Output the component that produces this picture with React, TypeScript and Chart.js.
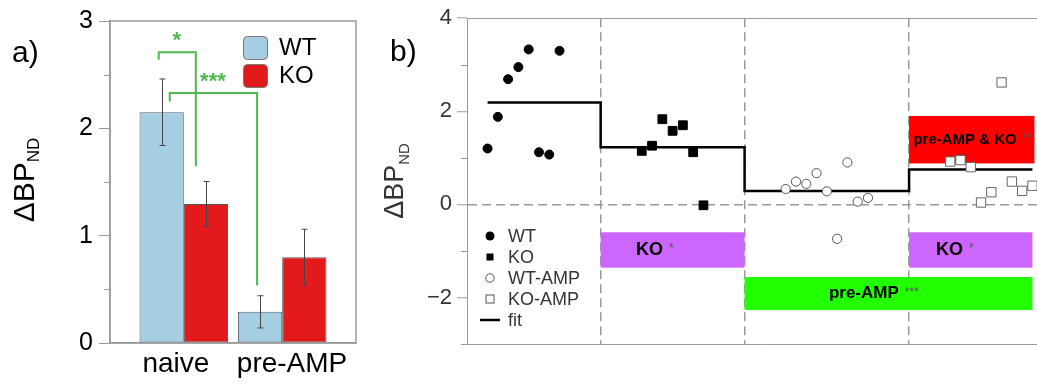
import React, { useEffect, useRef } from 'react';
import { Chart, registerables } from 'chart.js';

Chart.register(...registerables);

const FONT = '"Liberation Sans", Arial, Helvetica, sans-serif';

// ---------------- Panel a: bar chart ----------------
const barCategories = ['naive', 'pre-AMP'];
const barSeries = ['WT', 'KO'];
const wtMeans = [2.15, 0.29];
const koMeans = [1.295, 0.8];
const wtErrors = [0.31, 0.15];
const koErrors = [0.21, 0.26];
const barYTicksMax = 3;
// horizontal nudges of the category labels (style, in axis units)
const categoryLabelShift = [-0.08, 0.1];

// significance brackets (data coordinates)
const bracketLines = [
  { xl: 0.745, xr: 1.122, yTop: 2.71, yl: 2.64, yr: 1.65, text: '*', tx: 0.929, ty: 2.87 },
  { xl: 0.857, xr: 1.745, yTop: 2.33, yl: 2.25, yr: 0.535, text: '***', tx: 1.296, ty: 2.49 },
];

// ---------------- Panel b: scatter ----------------
const groupNames = ['WT', 'KO', 'WT-AMP', 'KO-AMP'];
const wtPoints = [1.2, 1.88, 2.69, 2.95, 3.33, 1.12, 1.07, 3.3];
const koPoints = [1.15, 1.26, 1.83, 1.58, 1.7, 1.12, -0.02];
const wtAmpPoints = [0.33, 0.49, 0.44, 0.67, 0.28, -0.74, 0.9, 0.06, 0.14];
const koAmpPoints = [0.92, 0.95, 0.8, 0.04, 0.26, 2.62, 0.49, 0.29, 0.4];
const fitLevels = [2.19, 1.225, 0.286, 0.75];
const scatterYMin = -3;
const scatterYMax = 4;
const groupGap = 8;

const groups = [wtPoints, koPoints, wtAmpPoints, koAmpPoints];
const groupStarts: number[] = [];
const groupEnds: number[] = [];
{
  let cur = 0;
  groups.forEach((g) => {
    groupStarts.push(cur);
    groupEnds.push(cur + g.length - 1);
    cur += g.length - 1 + groupGap;
  });
}
const separators = [0, 1, 2].map((i) => (groupEnds[i] + groupStarts[i + 1]) / 2);
const lastIndex = groupEnds[3];

const fitData: { x: number; y: number }[] = [];
fitLevels.forEach((lvl, i) => {
  const from = i === 0 ? groupStarts[0] : separators[i - 1];
  const to = i < 3 ? separators[i] : lastIndex;
  fitData.push({ x: from, y: lvl }, { x: to, y: lvl });
});

const effectBoxes = [
  { x0: separators[0], x1: separators[1], yTop: -0.6, yBottom: -1.36, color: '#cc66ff', label: 'KO', stars: '*', labelX: 15.75, size: 18 },
  { x0: separators[2], x1: lastIndex, yTop: -0.6, yBottom: -1.36, color: '#cc66ff', label: 'KO', stars: '*', labelX: 44.94, size: 18 },
  { x0: separators[1], x1: lastIndex, yTop: -1.56, yBottom: -2.27, color: '#22ff00', label: 'pre-AMP', stars: '***', labelX: 36.6, size: 17 },
  { x0: separators[2], x1: lastIndex + 0.2, yTop: 1.9, yBottom: 0.88, color: '#ff0000', label: 'pre-AMP & KO', stars: '**', labelX: 46.45, size: 15 },
];

function drawDeltaLabel(ctx: CanvasRenderingContext2D, cy: number, baseX: number, mainSize: number, subSize: number, subShift: number, color: string) {
  ctx.save();
  ctx.fillStyle = color;
  ctx.font = `${mainSize}px ${FONT}`;
  const mw = ctx.measureText('ΔBP').width;
  ctx.font = `${subSize}px ${FONT}`;
  const sw = ctx.measureText('ND').width;
  const total = mw + sw;
  ctx.translate(baseX, cy + total / 2);
  ctx.rotate(-Math.PI / 2);
  ctx.textAlign = 'left';
  ctx.textBaseline = 'alphabetic';
  ctx.font = `${mainSize}px ${FONT}`;
  ctx.fillText('ΔBP', 0, 0);
  ctx.font = `${subSize}px ${FONT}`;
  ctx.fillText('ND', mw, subShift);
  ctx.restore();
}

const panelAPlugin = {
  id: 'panelA',
  afterDatasetsDraw(chart: any) {
    const { ctx, scales } = chart;
    const y = scales.y;
    ctx.save();
    ctx.strokeStyle = '#444';
    ctx.lineWidth = 1;
    chart.data.datasets.forEach((ds: any, di: number) => {
      const meta = chart.getDatasetMeta(di);
      const errs = di === 0 ? wtErrors : koErrors;
      meta.data.forEach((bar: any, i: number) => {
        const v = ds.data[i].y;
        const e = errs[i];
        const px = Math.round(bar.x) + 0.5;
        const t = y.getPixelForValue(v + e);
        const b = y.getPixelForValue(v - e);
        ctx.beginPath();
        ctx.moveTo(px, t);
        ctx.lineTo(px, b);
        ctx.moveTo(px - 3, t);
        ctx.lineTo(px + 3, t);
        ctx.moveTo(px - 3, b);
        ctx.lineTo(px + 3, b);
        ctx.stroke();
      });
    });
    ctx.restore();
  },
  afterDraw(chart: any) {
    const { ctx, chartArea: ca, scales } = chart;
    const { x, y } = scales;
    ctx.save();
    // frame (drawn on top to be sure it shows)
    ctx.strokeStyle = '#9a9a9a';
    ctx.lineWidth = 1.5;
    ctx.strokeRect(Math.round(ca.left), Math.round(ca.top), Math.round(ca.right - ca.left), Math.round(ca.bottom - ca.top));
    // minor ticks
    ctx.lineWidth = 1;
    ctx.beginPath();
    for (let v = 0.5; v < barYTicksMax; v += 1) {
      const py = Math.round(y.getPixelForValue(v)) + 0.5;
      ctx.moveTo(ca.left - 6, py);
      ctx.lineTo(ca.left, py);
    }
    ctx.stroke();

    // brackets
    ctx.strokeStyle = '#4db84d';
    ctx.fillStyle = '#4db84d';
    ctx.lineWidth = 2;
    bracketLines.forEach((b) => {
      const xl = x.getPixelForValue(b.xl);
      const xr = x.getPixelForValue(b.xr);
      const yt = y.getPixelForValue(b.yTop);
      ctx.beginPath();
      ctx.moveTo(xl, y.getPixelForValue(b.yl));
      ctx.lineTo(xl, yt);
      ctx.lineTo(xr, yt);
      ctx.lineTo(xr, y.getPixelForValue(b.yr));
      ctx.stroke();
      ctx.font = `bold 22px ${FONT}`;
      ctx.textAlign = 'center';
      ctx.textBaseline = 'alphabetic';
      ctx.fillText(b.text, x.getPixelForValue(b.tx), y.getPixelForValue(b.ty) + 12);
    });

    // legend
    const colors = ['#a6cee3', '#e31a1c'];
    barSeries.forEach((name, i) => {
      const sx = ca.right - 113;
      const sy = ca.top + 15 + i * 28;
      ctx.beginPath();
      if ((ctx as any).roundRect) (ctx as any).roundRect(sx + 0.5, sy + 0.5, 24, 23, 4);
      else ctx.rect(sx + 0.5, sy + 0.5, 24, 23);
      ctx.fillStyle = colors[i];
      ctx.fill();
      ctx.strokeStyle = '#777';
      ctx.lineWidth = 1;
      ctx.stroke();
      ctx.fillStyle = '#000';
      ctx.font = `24px ${FONT}`;
      ctx.textAlign = 'left';
      ctx.textBaseline = 'middle';
      ctx.fillText(name, sx + 36, sy + 12.5);
    });

    // axis title and panel label
    drawDeltaLabel(ctx, 180, 34, 30, 17, 5, '#000');
    ctx.fillStyle = '#000';
    ctx.font = `30px ${FONT}`;
    ctx.textAlign = 'left';
    ctx.textBaseline = 'alphabetic';
    ctx.fillText('a)', 12, 62);
    ctx.restore();
  },
};

const panelBPlugin = {
  id: 'panelB',
  beforeDatasetsDraw(chart: any) {
    const { ctx, scales } = chart;
    const { x, y } = scales;
    ctx.save();
    effectBoxes.forEach((b) => {
      const x0 = x.getPixelForValue(b.x0);
      const x1 = x.getPixelForValue(b.x1);
      const y0 = y.getPixelForValue(b.yTop);
      const y1 = y.getPixelForValue(b.yBottom);
      ctx.fillStyle = b.color;
      ctx.fillRect(x0, y0, x1 - x0, y1 - y0);
      const lx = x.getPixelForValue(b.labelX);
      const ly = (y0 + y1) / 2;
      ctx.font = `bold ${b.size}px ${FONT}`;
      ctx.fillStyle = '#000';
      ctx.textAlign = 'center';
      ctx.textBaseline = 'middle';
      ctx.fillText(b.label, lx, ly);
      const w = ctx.measureText(b.label).width;
      ctx.font = `12px ${FONT}`;
      ctx.fillStyle = '#555';
      ctx.textAlign = 'left';
      ctx.fillText(b.stars, lx + w / 2 + 6, ly - 1);
    });
    ctx.restore();
  },
  afterDraw(chart: any) {
    const { ctx, chartArea: ca, scales } = chart;
    const { y } = scales;
    ctx.save();
    ctx.strokeStyle = '#999';
    ctx.lineWidth = 1;
    ctx.beginPath();
    for (let v = scatterYMin; v <= scatterYMax; v += 1) {
      if (v % 2 === 0) continue;
      const py = Math.round(y.getPixelForValue(v)) + 0.5;
      ctx.moveTo(ca.left - 6, py);
      ctx.lineTo(ca.left, py);
    }
    ctx.stroke();

    // legend
    const mx = ca.left + 23;
    const tx = ca.left + 41;
    const rows = [...groupNames, 'fit'];
    rows.forEach((name, i) => {
      const ry = 236 + i * 21;
      ctx.beginPath();
      ctx.lineWidth = 1;
      if (i === 0) {
        ctx.arc(mx, ry, 4.5, 0, Math.PI * 2);
        ctx.fillStyle = '#000';
        ctx.fill();
      } else if (i === 1) {
        ctx.fillStyle = '#000';
        ctx.fillRect(mx - 3.5, ry - 3.5, 7, 7);
      } else if (i === 2) {
        ctx.arc(mx, ry, 4.2, 0, Math.PI * 2);
        ctx.strokeStyle = '#555';
        ctx.stroke();
      } else if (i === 3) {
        ctx.strokeStyle = '#555';
        ctx.strokeRect(mx - 4, ry - 4, 8, 8);
      } else {
        ctx.strokeStyle = '#000';
        ctx.lineWidth = 2.5;
        ctx.moveTo(mx - 10, ry);
        ctx.lineTo(mx + 10, ry);
        ctx.stroke();
      }
      ctx.fillStyle = '#333';
      ctx.font = `18px ${FONT}`;
      ctx.textAlign = 'left';
      ctx.textBaseline = 'middle';
      ctx.fillText(name, tx, ry + 1);
    });

    drawDeltaLabel(ctx, 181, 28, 27, 15, 6, '#333');
    ctx.fillStyle = '#000';
    ctx.font = `30px ${FONT}`;
    ctx.textAlign = 'left';
    ctx.textBaseline = 'alphabetic';
    ctx.fillText('b)', 15, 61);
    ctx.restore();
  },
};

const frameScale = (position: string, axis: 'x' | 'y', min: number, max: number) => ({
  type: 'linear',
  position,
  axis,
  display: true,
  min,
  max,
  grid: { display: false, drawTicks: false, drawOnChartArea: false },
  ticks: { display: false },
  border: { display: true, color: '#999', width: 1 },
});

export default function App() {
  const refA = useRef<HTMLCanvasElement>(null);
  const refB = useRef<HTMLCanvasElement>(null);

  useEffect(() => {
    Chart.defaults.font.family = FONT;

    const chartA = new Chart(refA.current!, {
      type: 'bar',
      data: {
        datasets: [
          {
            label: barSeries[0],
            data: wtMeans.map((v, i) => ({ x: i + 1, y: v })),
            backgroundColor: '#a6cee3',
            borderColor: '#556068',
            borderWidth: 1,
            borderSkipped: false,
            categoryPercentage: 0.9,
            barPercentage: 1.0,
            xAxisID: 'x',
            yAxisID: 'y',
          },
          {
            label: barSeries[1],
            data: koMeans.map((v, i) => ({ x: i + 1, y: v })),
            backgroundColor: '#e31a1c',
            borderColor: '#555',
            borderWidth: 1,
            borderSkipped: false,
            categoryPercentage: 0.9,
            barPercentage: 1.0,
            xAxisID: 'x',
            yAxisID: 'y',
          },
        ] as any,
      },
      options: {
        responsive: false,
        animation: false,
        devicePixelRatio: 1,
        layout: { padding: { top: 18, right: 19, left: 0, bottom: 0 } },
        plugins: { legend: { display: false }, tooltip: { enabled: false } },
        scales: {
          x: {
            type: 'linear',
            min: 0.25,
            max: 2.75,
            offset: false,
            grid: { display: false, drawTicks: false, offset: false },
            border: { display: true, color: '#999', width: 1.5 },
            afterBuildTicks: (scale: any) => {
              scale.ticks = barCategories.map((_, i) => ({ value: i + 1 + categoryLabelShift[i] }));
            },
            afterFit: (scale: any) => {
              scale.height = 43;
            },
            ticks: {
              autoSkip: false,
              maxRotation: 0,
              padding: 4,
              color: '#000',
              font: { size: 28, family: FONT },
              callback: (_v: any, index: number) => barCategories[index] ?? '',
            },
          },
          y: {
            type: 'linear',
            min: 0,
            max: barYTicksMax,
            grid: {
              drawOnChartArea: false,
              drawTicks: true,
              tickLength: 11,
              tickColor: (c: any) => (Number.isInteger(c.tick.value) ? '#999' : 'rgba(0,0,0,0)'),
            },
            border: { display: true, color: '#999', width: 1.5 },
            afterFit: (scale: any) => {
              scale.width = 110;
            },
            ticks: {
              stepSize: 0.5,
              padding: 6,
              color: '#000',
              font: { size: 25, family: FONT },
              callback: (v: any) => (Number.isInteger(Number(v)) ? String(v) : ''),
            },
          },
        },
      } as any,
      plugins: [panelAPlugin],
    });

    const pointSets = groups.map((g, gi) => g.map((v, i) => ({ x: groupStarts[gi] + i, y: v })));

    const chartB = new Chart(refB.current!, {
      type: 'scatter',
      data: {
        datasets: [
          {
            label: 'fit',
            data: fitData,
            showLine: true,
            borderColor: '#000',
            borderWidth: 2.5,
            pointRadius: 0,
            fill: false,
            order: 10,
            xAxisID: 'x',
            yAxisID: 'y',
          },
          {
            label: groupNames[0],
            data: pointSets[0],
            pointStyle: 'circle',
            pointRadius: 4.5,
            backgroundColor: '#000',
            borderColor: '#000',
            borderWidth: 1,
            order: 1,
            xAxisID: 'x',
            yAxisID: 'y',
          },
          {
            label: groupNames[1],
            data: pointSets[1],
            pointStyle: 'rect',
            pointRadius: 6.2,
            backgroundColor: '#000',
            borderColor: '#000',
            borderWidth: 1,
            order: 1,
            xAxisID: 'x',
            yAxisID: 'y',
          },
          {
            label: groupNames[2],
            data: pointSets[2],
            pointStyle: 'circle',
            pointRadius: 4.6,
            backgroundColor: '#fff',
            borderColor: '#555',
            borderWidth: 1,
            order: 1,
            xAxisID: 'x',
            yAxisID: 'y',
          },
          {
            label: groupNames[3],
            data: pointSets[3],
            pointStyle: 'rect',
            pointRadius: 6.6,
            backgroundColor: '#fff',
            borderColor: '#666',
            borderWidth: 1,
            order: 1,
            xAxisID: 'x',
            yAxisID: 'y',
          },
        ] as any,
      },
      options: {
        responsive: false,
        animation: false,
        devicePixelRatio: 1,
        layout: { padding: { top: 18, right: 22, left: 0, bottom: 0 } },
        plugins: { legend: { display: false }, tooltip: { enabled: false } },
        scales: {
          x: {
            type: 'linear',
            min: -2,
            max: lastIndex + 2,
            grid: { display: true, drawTicks: false, color: '#9a9a9a', lineWidth: 1.5 },
            border: { display: true, color: '#999', width: 1, dash: [9, 5] },
            afterBuildTicks: (scale: any) => {
              scale.ticks = separators.map((v) => ({ value: v }));
            },
            afterFit: (scale: any) => {
              scale.height = 42;
            },
            ticks: { display: false },
          },
          xTop: frameScale('top', 'x', -2, lastIndex + 2),
          y: {
            type: 'linear',
            min: scatterYMin,
            max: scatterYMax,
            grid: {
              drawOnChartArea: true,
              drawTicks: true,
              tickLength: 10,
              lineWidth: 1.5,
              color: (c: any) => (c.tick && c.tick.value === 0 ? '#9a9a9a' : 'rgba(0,0,0,0)'),
              tickColor: (c: any) => (c.tick && c.tick.value % 2 === 0 ? '#999' : 'rgba(0,0,0,0)'),
              tickWidth: 1,
              tickBorderDash: [],
            },
            border: { display: true, color: '#999', width: 1, dash: [9, 5] },
            afterFit: (scale: any) => {
              scale.width = 92;
            },
            ticks: {
              stepSize: 1,
              padding: 5,
              color: '#333',
              font: { size: 22, family: FONT },
              callback: (v: any) => {
                const n = Number(v);
                if (n % 2 !== 0) return '';
                return n < 0 ? '\u2212' + Math.abs(n) : String(n);
              },
            },
          },
        },
      } as any,
      plugins: [panelBPlugin],
    });

    return () => {
      chartA.destroy();
      chartB.destroy();
    };
  }, []);

  return (
    <div style={{ position: 'fixed', left: 0, top: 0, width: 1037, height: 386, overflow: 'hidden', background: '#fff' }}>
      <div style={{ position: 'absolute', left: 0, top: 0, width: 375, height: 386 }}>
        <canvas ref={refA} width={375} height={386} style={{ display: 'block', width: 375, height: 386 }} />
      </div>
      <div style={{ position: 'absolute', left: 375, top: 0, width: 700, height: 386 }}>
        <canvas ref={refB} width={700} height={386} style={{ display: 'block', width: 700, height: 386 }} />
      </div>
    </div>
  );
}
